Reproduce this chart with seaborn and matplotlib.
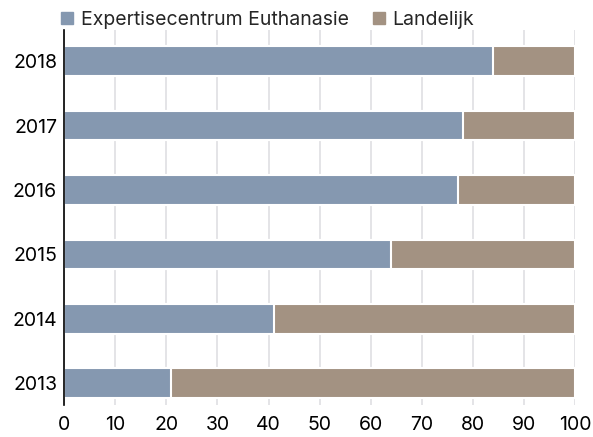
import matplotlib
matplotlib.use("Agg")
import matplotlib.pyplot as plt
import seaborn as sns
import pandas as pd
from matplotlib.lines import Line2D

years = ["2018", "2017", "2016", "2015", "2014", "2013"]
expertise = [84, 78, 77, 64, 41, 21]
landelijk = [16, 22, 23, 36, 59, 79]

blue = "#8598b0"
brown = "#a39282"

sns.set_theme(style="white")
plt.rcParams["font.family"] = ["Inter", "DejaVu Sans"]

df = pd.DataFrame({"year": years, "expertise": expertise, "landelijk": landelijk})
df["total"] = df["expertise"] + df["landelijk"]

fig = plt.figure(figsize=(5.93, 4.37), dpi=100)
ax = fig.add_axes([0.108, 0.073, 0.862, 0.858])

sns.barplot(data=df, x="total", y="year", order=years, color=brown, width=0.46,
            edgecolor="white", linewidth=1.5, saturation=1, ax=ax, zorder=3)
sns.barplot(data=df, x="expertise", y="year", order=years, color=blue, width=0.46,
            edgecolor="white", linewidth=1.5, saturation=1, ax=ax, zorder=4)

ax.set_xlim(0, 100)
ax.set_ylim(5.34, -0.48)
ax.set_xticks(range(0, 101, 10))
ax.grid(axis="x", color="#dcdce0", linewidth=1.1, zorder=0)
ax.set_axisbelow(True)
for s in ["top", "right", "bottom"]:
    ax.spines[s].set_visible(False)
ax.spines["left"].set_color("black")
ax.spines["left"].set_linewidth(1.2)
ax.spines["left"].set_zorder(10)
ax.set_xlabel("")
ax.set_ylabel("")
ax.tick_params(axis="both", length=0, labelsize=14, colors="black")
ax.tick_params(axis="y", pad=5)
ax.tick_params(axis="x", pad=8)

handles = [
    Line2D([], [], marker="s", linestyle="", color=blue, markersize=8),
    Line2D([], [], marker="s", linestyle="", color=brown, markersize=8),
]
fig.legend(handles, ["Expertisecentrum Euthanasie", "Landelijk"], loc="upper left",
           bbox_to_anchor=(0.072, 1.015), ncol=2, frameon=False, fontsize=14,
           handlelength=0.7, handletextpad=0.35, columnspacing=1.2)

fig.savefig("out.png", dpi=100)
